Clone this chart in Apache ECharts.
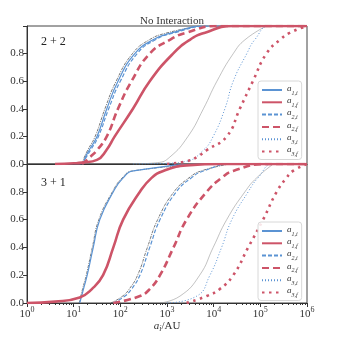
<!DOCTYPE html>
<html>
<head>
<meta charset="utf-8">
<script src="https://cdn.jsdelivr.net/npm/echarts@6/dist/echarts.min.js"></script>
<style>
  html, body { margin: 0; padding: 0; background: #fff; }
  #main { width: 343px; height: 343px; }
</style>
</head>
<body>
<div id="main"></div>
<script>
// CDF values and log10(a) positions
var seriesNames = ['a1i', 'a1f', 'a2i', 'a2f', 'a3i', 'a3f'];
var legendSubs = { a1i: '1,i', a1f: '1,f', a2i: '2,i', a2f: '2,f', a3i: '3,i', a3f: '3,f' };

// ---- 2+2 panel
var top_a1i_x = [0.6, 1.18, 1.25, 1.33, 1.5, 1.71, 1.95, 2.31, 2.7, 3.1, 3.85, 6];
var top_a1i_y = [0, 0, 0.05, 0.1, 0.2, 0.4, 0.6, 0.8, 0.9, 0.95, 1, 1];
var top_a2i_x = [1.18, 1.27, 1.36, 1.53, 1.75, 2.0, 2.36, 2.75, 3.15, 3.9, 6];
var top_a2i_y = [0, 0.05, 0.1, 0.2, 0.4, 0.6, 0.8, 0.9, 0.95, 1, 1];
var top_ref1_x = [1.18, 1.23, 1.3, 1.46, 1.67, 1.91, 2.26, 2.62, 3.0, 3.7];
var top_ref1_y = [0, 0.05, 0.1, 0.2, 0.4, 0.6, 0.8, 0.9, 0.95, 1];
var top_a1f_x = [0.6, 1.0, 1.18, 1.5, 1.7, 1.88, 2.27, 2.63, 3.13, 3.49, 3.8, 4.4, 6];
var top_a1f_y = [0, 0.005, 0.01, 0.03, 0.1, 0.2, 0.4, 0.6, 0.8, 0.9, 0.95, 1, 1];
var top_a2f_x = [1.18, 1.35, 1.5, 1.71, 1.95, 2.24, 2.63, 3.06, 3.4, 4.07, 6];
var top_a2f_y = [0, 0.05, 0.1, 0.2, 0.4, 0.6, 0.8, 0.9, 0.95, 1, 1];
var top_ref3_x = [2.27, 2.8, 3.06, 3.45, 3.78, 4.07, 4.42, 4.67, 5.13];
var top_ref3_y = [0, 0.01, 0.05, 0.2, 0.4, 0.6, 0.8, 0.9, 1];
var top_a3i_x = [2.27, 3.0, 3.42, 3.78, 3.99, 4.24, 4.42, 4.71, 4.88, 5.2, 6];
var top_a3i_y = [0, 0.005, 0.02, 0.1, 0.2, 0.4, 0.6, 0.8, 0.9, 1, 1];
var top_a3f_x = [3.0, 3.42, 3.64, 3.85, 4.28, 4.56, 4.84, 5.13, 5.42, 5.63, 6.0];
var top_a3f_y = [0, 0.02, 0.05, 0.1, 0.2, 0.4, 0.6, 0.8, 0.9, 0.95, 1];

// ---- 3+1 panel
var bot_a1i_x = [1.13, 1.21, 1.29, 1.42, 1.56, 1.85, 2.06, 2.28, 4.07, 6];
var bot_a1i_y = [0, 0.1, 0.2, 0.4, 0.6, 0.8, 0.9, 0.95, 1, 1];
var bot_ref1_x = [1.12, 1.19, 1.27, 1.4, 1.54, 1.83, 2.04, 2.26, 4.0];
var bot_ref1_y = [0, 0.1, 0.2, 0.4, 0.6, 0.8, 0.9, 0.95, 1];
var bot_a1f_x = [0, 0.6, 1.13, 1.39, 1.63, 1.85, 2.06, 2.42, 2.67, 2.92, 3.42, 4.2, 6];
var bot_a1f_y = [0, 0.01, 0.04, 0.1, 0.2, 0.4, 0.6, 0.8, 0.9, 0.95, 0.99, 1, 1];
var bot_a2i_x = [1.85, 2.1, 2.24, 2.42, 2.63, 2.85, 3.2, 3.52, 3.78, 4.42, 6];
var bot_a2i_y = [0, 0.05, 0.1, 0.2, 0.4, 0.6, 0.8, 0.9, 0.95, 1, 1];
var bot_ref2_x = [1.8, 2.05, 2.19, 2.37, 2.58, 2.8, 3.15, 3.47, 3.73, 4.35];
var bot_ref2_y = [0, 0.05, 0.1, 0.2, 0.4, 0.6, 0.8, 0.9, 0.95, 1];
var bot_a2f_x = [1.85, 2.42, 2.63, 2.85, 3.14, 3.42, 3.85, 4.17, 4.42, 5.13, 6];
var bot_a2f_y = [0, 0.05, 0.1, 0.2, 0.4, 0.6, 0.8, 0.9, 0.95, 1, 1];
var bot_ref3_x = [2.85, 3.28, 3.7, 3.99, 4.28, 4.67, 4.92, 5.28];
var bot_ref3_y = [0, 0.05, 0.2, 0.4, 0.6, 0.8, 0.9, 1];
var bot_a3i_x = [3.0, 3.64, 3.92, 4.17, 4.39, 4.74, 4.95, 5.28, 6];
var bot_a3i_y = [0, 0.05, 0.2, 0.4, 0.6, 0.8, 0.9, 1, 1];
var bot_a3f_x = [3.42, 3.85, 4.13, 4.42, 4.74, 5.06, 5.35, 5.56, 5.7, 6.0];
var bot_a3f_y = [0, 0.05, 0.1, 0.2, 0.4, 0.6, 0.8, 0.9, 0.95, 1];

var BLUE = '#5b93d3';
var RED = '#cd5468';
var FONT = 'Liberation Serif';

function pts(xs, ys) {
  var out = [];
  for (var i = 0; i < xs.length; i++) {
    out.push([Math.pow(10, xs[i]), ys[i]]);
  }
  return out;
}

var styles = {
  a1i: { color: BLUE, width: 1.2, type: 'solid' },
  a1f: { color: RED, width: 2.6, type: 'solid' },
  a2i: { color: BLUE, width: 1.2, type: [4, 2] },
  a2f: { color: RED, width: 2.6, type: [7, 4] },
  a3i: { color: BLUE, width: 1, type: [1, 2] },
  a3f: { color: RED, width: 2.6, type: [2.5, 4.5] }
};

function curve(name, idx, data, z) {
  var st = styles[name];
  return {
    name: name, type: 'line', xAxisIndex: idx, yAxisIndex: idx,
    data: data, showSymbol: false, symbol: 'none',
    smooth: 0.5, z: z || 3,
    itemStyle: { color: st.color },
    lineStyle: { color: st.color, width: st.width, type: st.type, cap: 'butt' },
    emphasis: { disabled: true }
  };
}

function refLine(idx, data, color, type) {
  return {
    name: 'ref', type: 'line', xAxisIndex: idx, yAxisIndex: idx,
    data: data, showSymbol: false, symbol: 'none', smooth: 0.5, z: 2,
    lineStyle: { color: color, width: 0.6, type: type },
    emphasis: { disabled: true }
  };
}

function legendFor(top) {
  return {
    orient: 'vertical', left: 258, top: top,
    data: seriesNames,
    itemWidth: 20, itemHeight: 8, itemGap: 0.3,
    padding: [3, 4, 2, 3],
    borderColor: '#d8d8d8', borderWidth: 1, borderRadius: 3,
    backgroundColor: 'rgba(255,255,255,0.85)',
    selectedMode: false,
    itemStyle: { opacity: 0 },
    formatter: function (n) { return '{a|a}{s|' + legendSubs[n] + '}'; },
    textStyle: {
      color: '#333', lineHeight: 12,
      rich: {
        a: { fontFamily: FONT, fontStyle: 'italic', fontSize: 9, color: '#333', lineHeight: 10, verticalAlign: 'top' },
        s: { fontFamily: FONT, fontStyle: 'italic', fontSize: 6, color: '#333', lineHeight: 12, verticalAlign: 'bottom' }
      }
    }
  };
}

function xAxisFor(idx, showLabels) {
  return {
    type: 'log', logBase: 10, min: 1, max: 1e6, gridIndex: idx,
    axisLine: { show: true, lineStyle: { color: '#333', width: 1 } },
    axisTick: { show: showLabels, inside: false, length: 4, lineStyle: { color: '#333' } },
    minorTick: { show: showLabels, splitNumber: 9, length: 2, lineStyle: { color: '#333' } },
    splitLine: { show: false },
    axisLabel: {
      show: showLabels, margin: 3,
      formatter: function (v) {
        var e = Math.round(Math.log(v) / Math.LN10);
        return '{b|10}{p|' + e + '}';
      },
      rich: {
        b: { fontFamily: FONT, fontSize: 11, color: '#333', verticalAlign: 'bottom', lineHeight: 14 },
        p: { fontFamily: FONT, fontSize: 8, color: '#333', verticalAlign: 'top', lineHeight: 8 }
      }
    },
    name: showLabels ? '{i|a}{s|i}{n|/AU}' : '',
    nameLocation: 'middle', nameGap: 17,
    nameTextStyle: {
      rich: {
        i: { fontFamily: FONT, fontStyle: 'italic', fontSize: 11, color: '#333' },
        s: { fontFamily: FONT, fontStyle: 'italic', fontSize: 8, color: '#333', padding: [5, 0, 0, 0] },
        n: { fontFamily: FONT, fontSize: 11, color: '#333' }
      }
    }
  };
}

function yAxisFor(idx) {
  return {
    type: 'value', min: 0, max: 1, interval: 0.2, gridIndex: idx,
    axisLine: { show: true, lineStyle: { color: '#333', width: 1 } },
    axisTick: { show: true, inside: false, length: 4, lineStyle: { color: '#333' } },
    splitLine: { show: false },
    axisLabel: {
      fontFamily: FONT, fontSize: 11, color: '#333', margin: 3,
      formatter: function (v) { return v > 0.99 ? '' : v.toFixed(1); }
    },
    name: 'CDF', nameLocation: 'middle', nameGap: 24,
    nameTextStyle: { fontFamily: FONT, fontSize: 11, color: '#333' }
  };
}

var chart = echarts.init(document.getElementById('main'), null, { renderer: 'canvas' });

var option = {
  animation: false,
  backgroundColor: '#fff',
  title: {
    text: 'No Interaction', left: 167, top: 11, textAlign: 'center',
    textStyle: { fontFamily: FONT, fontSize: 11, fontWeight: 'normal', color: '#333' }
  },
  grid: [
    { left: 27, right: 36, top: 26, height: 138, show: true, borderColor: '#444', borderWidth: 1,
      backgroundColor: 'transparent', containLabel: false, outerBoundsMode: 'none' },
    { left: 27, right: 36, top: 164, height: 139, show: true, borderColor: '#444', borderWidth: 1,
      backgroundColor: 'transparent', containLabel: false, outerBoundsMode: 'none' }
  ],
  xAxis: [xAxisFor(0, false), xAxisFor(1, true)],
  yAxis: [yAxisFor(0), yAxisFor(1)],
  legend: [legendFor(81), legendFor(222)],
  graphic: [
    { type: 'text', left: 41, top: 36, style: { text: '2 + 2', font: '12px "Liberation Serif"', fill: '#222' } },
    { type: 'text', left: 41, top: 177, style: { text: '3 + 1', font: '12px "Liberation Serif"', fill: '#222' } }
  ],
  series: [
    refLine(0, pts(top_ref3_x, top_ref3_y), '#999', 'solid'),
    curve('a1i', 0, pts(top_a1i_x, top_a1i_y)),
    curve('a2i', 0, pts(top_a2i_x, top_a2i_y)),
    curve('a3i', 0, pts(top_a3i_x, top_a3i_y)),
    curve('a2f', 0, pts(top_a2f_x, top_a2f_y)),
    curve('a1f', 0, pts(top_a1f_x, top_a1f_y)),
    curve('a3f', 0, pts(top_a3f_x, top_a3f_y)),
    refLine(0, pts(top_ref1_x, top_ref1_y), '#222', [3, 1, 1, 1]),

    refLine(1, pts(bot_ref3_x, bot_ref3_y), '#999', 'solid'),
    curve('a1i', 1, pts(bot_a1i_x, bot_a1i_y)),
    curve('a2i', 1, pts(bot_a2i_x, bot_a2i_y)),
    curve('a3i', 1, pts(bot_a3i_x, bot_a3i_y)),
    curve('a2f', 1, pts(bot_a2f_x, bot_a2f_y)),
    curve('a1f', 1, pts(bot_a1f_x, bot_a1f_y)),
    curve('a3f', 1, pts(bot_a3f_x, bot_a3f_y)),
    refLine(1, pts(bot_ref1_x, bot_ref1_y), '#222', [3, 1, 1, 1]),
    refLine(1, pts(bot_ref2_x, bot_ref2_y), '#222', [3, 1, 1, 1])
  ]
};

chart.setOption(option);
</script>
</body>
</html>
